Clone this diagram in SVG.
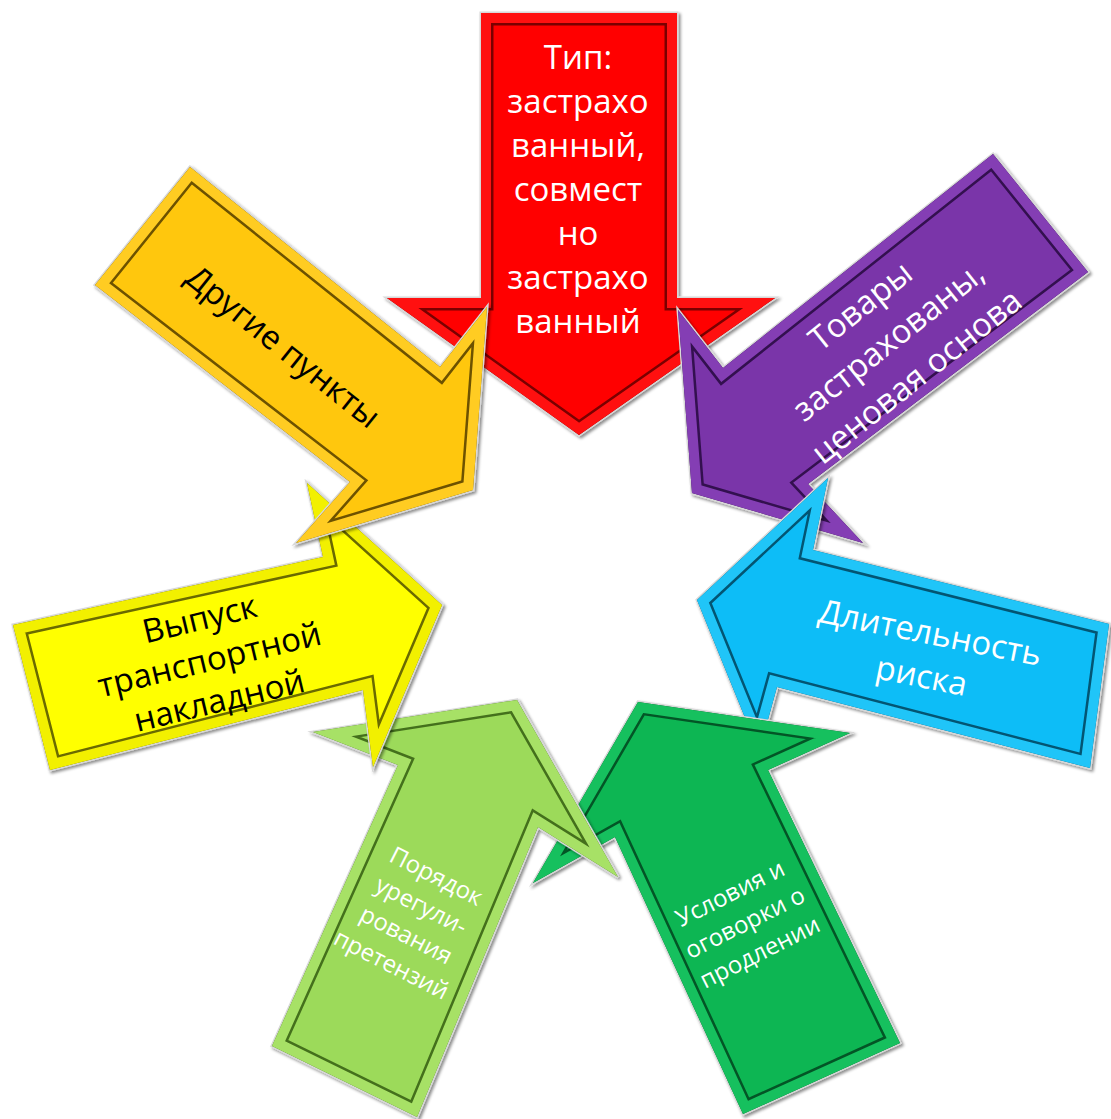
<svg xmlns="http://www.w3.org/2000/svg" xmlns:xlink="http://www.w3.org/1999/xlink" width="1111" height="1119" viewBox="0 0 1111 1119">
<style>
.base{stroke:#d8d8d8;stroke-width:3;stroke-linejoin:miter}
.edge{fill:none;stroke-width:25;stroke-linejoin:miter}
.band{fill:none;stroke-width:20;stroke-linejoin:miter}
.t{font-family:"Open Sans","Noto Sans","Liberation Sans",sans-serif;text-anchor:middle}
.big{font-size:33px}
.small{font-size:24px}
.w{fill:#ffffff}
.k{fill:#000000}
</style>
<defs>
<filter id="sh" x="-10%" y="-10%" width="120%" height="120%">
<feDropShadow dx="2" dy="2" stdDeviation="1.5" flood-color="#000" flood-opacity="0.45"/>
</filter>
<polygon id="p-red" points="481,13 677,13 677,298 775,298 579,435 387,298 481,298"/>
<polygon id="p-purple" points="993,154 1088,272 808,484 863,543 692,493 678,310 723,368"/>
<polygon id="p-blue" points="1109,624 1090,768 777,687 759,752 697,600 828,478 813,550"/>
<polygon id="p-green" points="900,1043 743,1114 615,837 533,883 638,702 850,733 768,770"/>
<polygon id="p-lgreen" points="272,1046 417,1117 538,827 618,877 517,700 313,732 398,765"/>
<polygon id="p-yellow" points="13,625 50,770 363,690 373,767 442,605 307,483 323,557"/>
<polygon id="p-orange" points="190,167 95,285 350,482 296,543 473,490 487,307 440,367"/>
<clipPath id="c-red"><use xlink:href="#p-red"/></clipPath>
<clipPath id="c-purple"><use xlink:href="#p-purple"/></clipPath>
<clipPath id="c-blue"><use xlink:href="#p-blue"/></clipPath>
<clipPath id="c-green"><use xlink:href="#p-green"/></clipPath>
<clipPath id="c-lgreen"><use xlink:href="#p-lgreen"/></clipPath>
<clipPath id="c-yellow"><use xlink:href="#p-yellow"/></clipPath>
<clipPath id="c-orange"><use xlink:href="#p-orange"/></clipPath>
</defs>
<rect width="1111" height="1119" fill="#ffffff"/>
<g id="connectors"/>

<g id="node-red">
<use xlink:href="#p-red" class="base" fill="#ff0000" filter="url(#sh)"/>
<g clip-path="url(#c-red)"><use xlink:href="#p-red" class="edge" stroke="#7a0000"/><use xlink:href="#p-red" class="band" stroke="#ff1010"/></g>
<text class="t big w" x="578"><tspan x="578" y="69">Тип:</tspan><tspan x="578" y="113">застрахо</tspan><tspan x="578" y="157">ванный,</tspan><tspan x="578" y="201">совмест</tspan><tspan x="578" y="245">но</tspan><tspan x="578" y="289">застрахо</tspan><tspan x="578" y="333">ванный</tspan></text>
</g>

<g id="node-purple">
<use xlink:href="#p-purple" class="base" fill="#7a35a9" filter="url(#sh)"/>
<g clip-path="url(#c-purple)"><use xlink:href="#p-purple" class="edge" stroke="#33104f"/><use xlink:href="#p-purple" class="band" stroke="#843eb4"/></g>
<text class="t big w" transform="translate(890,343) rotate(-38.5)"><tspan x="0" y="-36">Товары</tspan><tspan x="0" y="9">застрахованы,</tspan><tspan x="0" y="54">ценовая основа</tspan></text>
</g>

<g id="node-blue">
<use xlink:href="#p-blue" class="base" fill="#08bdf7" filter="url(#sh)"/>
<g clip-path="url(#c-blue)"><use xlink:href="#p-blue" class="edge" stroke="#035573"/><use xlink:href="#p-blue" class="band" stroke="#20c5f8"/></g>
<text class="t big w" transform="translate(928,644) rotate(11.3)"><tspan x="0" y="0">Длительность</tspan><tspan x="0" y="44">риска</tspan></text>
</g>

<g id="node-green">
<use xlink:href="#p-green" class="base" fill="#0bb653" filter="url(#sh)"/>
<g clip-path="url(#c-green)"><use xlink:href="#p-green" class="edge" stroke="#035526"/><use xlink:href="#p-green" class="band" stroke="#16c05e"/></g>
<text class="t small w" transform="translate(745,923) rotate(-26.7)"><tspan x="0" y="-25">Условия и</tspan><tspan x="0" y="8">оговорки о</tspan><tspan x="0" y="41">продлении</tspan></text>
</g>

<g id="node-lightgreen">
<use xlink:href="#p-lgreen" class="base" fill="#9cda5a" filter="url(#sh)"/>
<g clip-path="url(#c-lgreen)"><use xlink:href="#p-lgreen" class="edge" stroke="#44701c"/><use xlink:href="#p-lgreen" class="band" stroke="#a7e166"/></g>
<text class="t small w" transform="translate(414,920) rotate(27)"><tspan x="0" y="-41">Порядок</tspan><tspan x="0" y="-8">урегули-</tspan><tspan x="0" y="25">рования</tspan><tspan x="0" y="58">претензий</tspan></text>
</g>

<g id="node-yellow">
<use xlink:href="#p-yellow" class="base" fill="#ffff00" filter="url(#sh)"/>
<g clip-path="url(#c-yellow)"><use xlink:href="#p-yellow" class="edge" stroke="#6a6a00"/><use xlink:href="#p-yellow" class="band" stroke="#f2f000"/></g>
<text class="t big k" transform="translate(210,662) rotate(-13.5)"><tspan x="0" y="-33">Выпуск</tspan><tspan x="0" y="9">транспортной</tspan><tspan x="0" y="51">накладной</tspan></text>
</g>

<g id="node-orange">
<use xlink:href="#p-orange" class="base" fill="#ffc70d" filter="url(#sh)"/>
<g clip-path="url(#c-orange)"><use xlink:href="#p-orange" class="edge" stroke="#6d5200"/><use xlink:href="#p-orange" class="band" stroke="#ffcc22"/></g>
<text class="t big k" transform="translate(283,347) rotate(38.7)"><tspan x="0" y="11">Другие пункты</tspan></text>
</g>
</svg>
